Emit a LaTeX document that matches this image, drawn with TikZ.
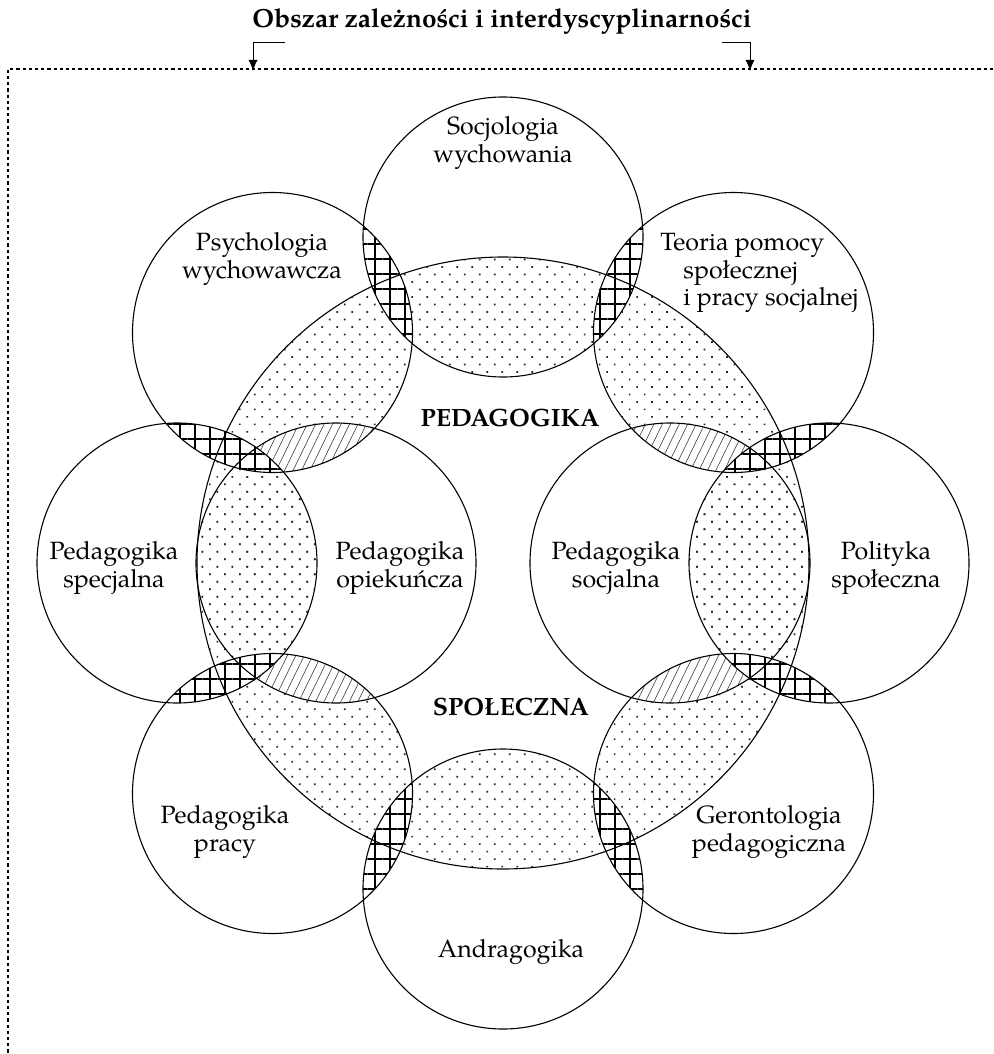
\documentclass[tikz,border=0pt]{standalone}
\usepackage{fontspec}
\setmainfont{TeX Gyre Pagella}
\usetikzlibrary{patterns.meta,arrows.meta}
\begin{document}
\begin{tikzpicture}[x=0.5pt,y=-0.5pt,
  lbl/.style={align=center, font=\fontsize{12.5}{13.8}\selectfont, inner sep=0pt},
  bold/.style={font=\fontsize{12.5}{13.8}\selectfont\bfseries, inner sep=0pt},
  ring/.style={draw=black, line width=0.55pt},
  dotfill/.style={pattern={Dots[angle=45,distance=5.3pt,radius=0.6pt]}, pattern color=black!85},
  hatchfill/.style={pattern={Lines[angle=64,distance=3.8pt,line width=0.28pt]}, pattern color=black!80},
  gridfill/.style={pattern={Hatch[angle=0,distance=7.5pt,line width=1.3pt]}, pattern color=black},
  frame/.style={line width=0.6pt, dash pattern=on 1.6pt off 1.5pt},
  arr/.style={line width=0.5pt, -{Latex[length=5.5pt,width=4.5pt]}}
]
\useasboundingbox (0,0) rectangle (993,1054);
% centres
\coordinate (C) at (503,563);
\coordinate (oN) at (503,237);
\coordinate (oNE) at (733.5,332.5);
\coordinate (oE) at (829,563);
\coordinate (oSE) at (733.5,793.5);
\coordinate (oS) at (503,889);
\coordinate (oSW) at (272.5,793.5);
\coordinate (oW) at (177,563);
\coordinate (oNW) at (272.5,332.5);
\coordinate (iW) at (336,563);
\coordinate (iE) at (670,563);
% dotted: outer circles inside the big circle
\foreach \o in {oN,oNE,oE,oSE,oS,oSW,oW,oNW}{
  \begin{scope}
    \clip (\o) circle[radius=140];
    \fill[dotfill] (C) circle[radius=306];
  \end{scope}
}
\begin{scope}
  \clip (oW) circle[radius=140];
  \fill[dotfill] (iW) circle[radius=140];
\end{scope}
\begin{scope}
  \clip (oE) circle[radius=140];
  \fill[dotfill] (iE) circle[radius=140];
\end{scope}
% hatched: inner circles with diagonal outer circles
\foreach \o/\i in {oNW/iW,oSW/iW,oNE/iE,oSE/iE}{
  \begin{scope}
    \clip (\o) circle[radius=140];
    \fill[white] (\i) circle[radius=140];
    \fill[hatchfill] (\i) circle[radius=140];
  \end{scope}
}
% cross-hatched: adjacent outer circles
\foreach \a/\b in {oN/oNE,oNE/oE,oE/oSE,oSE/oS,oS/oSW,oSW/oW,oW/oNW,oNW/oN}{
  \begin{scope}
    \clip (\a) circle[radius=140];
    \fill[white] (\b) circle[radius=140];
    \fill[gridfill] (\b) circle[radius=140];
  \end{scope}
}
% outlines
\foreach \c in {oN,oNE,oE,oSE,oS,oSW,oW,oNW,iW,iE}{
  \draw[ring] (\c) circle[radius=140];
}
\draw[ring] (C) circle[radius=306];
% labels
\node[bold, font=\fontsize{13.1}{14}\selectfont\bfseries] (title) at (502,22) {Obszar zależności i interdyscyplinarności};
\node[lbl] (tSoc) at (503,143) {Socjologia\\wychowania};
\node[lbl] (tPsy) at (262,259) {Psychologia\\wychowawcza};
\node[lbl, align=left, anchor=west] (tTeo) at (660,273) {Teoria pomocy\\\hspace*{11.5pt}społecznej\\\hspace*{11.5pt}i pracy socjalnej};
\node[bold] (tPed) at (510,418) {PEDAGOGIKA};
\node[bold] (tSpo) at (511,707) {SPOŁECZNA};
\node[lbl] (tSpe) at (114,568) {Pedagogika\\specjalna};
\node[lbl] (tOpi) at (400,568) {Pedagogika\\opiekuńcza};
\node[lbl] (tSoj) at (616,568) {Pedagogika\\socjalna};
\node[lbl] (tPol) at (886,568) {Polityka\\społeczna};
\node[lbl] (tPra) at (225,832) {Pedagogika\\pracy};
\node[lbl] (tGer) at (769,832) {Gerontologia\\pedagogiczna};
\node[lbl] (tAnd) at (511,952) {Andragogika};
% frame and arrows
\coordinate (fTR) at (993,69);
\coordinate (fTL) at (8,69);
\coordinate (fBL) at (8,1054);
\draw[frame] (fTR) -- (fTL) -- (fBL);
\coordinate (aL0) at (285,43);
\coordinate (aL1) at (253,43);
\coordinate (aL2) at (253,71);
\coordinate (aR0) at (722,43);
\coordinate (aR1) at (750,43);
\coordinate (aR2) at (750,71);
\draw[arr] (aL0) -- (aL1) -- (aL2);
\draw[arr] (aR0) -- (aR1) -- (aR2);
\end{tikzpicture}
\end{document}
